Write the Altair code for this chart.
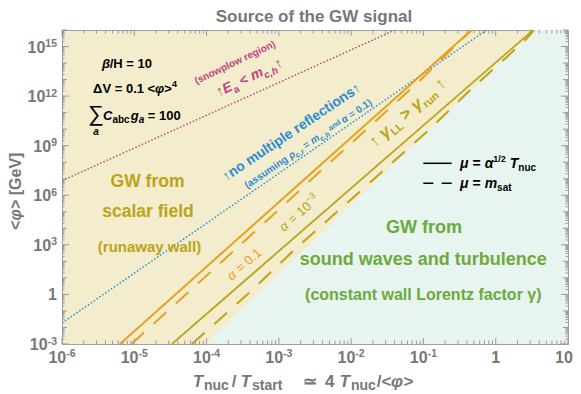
import altair as alt
import pandas as pd

# ---------------- data ----------------
x_major = [1e-6, 1e-5, 1e-4, 1e-3, 1e-2, 1e-1, 1, 10]
x_label_base = ["10", "10", "10", "10", "10", "10", "1", "10"]
x_label_exp = ["-6", "-5", "-4", "-3", "-2", "-1", "", ""]
y_major = [1e-3, 1, 1e3, 1e6, 1e9, 1e12, 1e15]
y_label_base = ["10", "1", "10", "10", "10", "10", "10"]
y_label_exp = ["-3", "", "3", "6", "9", "12", "15"]

orange_solid_x = [6.34e-6, 0.464]
orange_solid_y = [1e-3, 1e16]
orange_dashed_x = [9.14e-6, 5.19e-4, 4.35e-3, 0.0805, 0.172, 0.464]
orange_dashed_y = [1e-3, 9.8e3, 5.1e7, 5.6e12, 1.45e14, 1e16]
olive_solid_x = [3.32e-5, 3.30]
olive_solid_y = [1e-3, 1e16]
olive_dashed_x = [6.28e-5, 3.59e-4, 1.62e-3, 0.0382, 0.111, 0.44, 1.34, 2.67, 3.37]
olive_dashed_y = [1e-3, 0.912, 479, 1.05e8, 6.8e9, 2.24e12, 1.82e14, 2.95e15, 1e16]
boundary_x = [9.5e-5, 3.48]
boundary_y = [1e-3, 1e16]
snowplow_x = [1e-6, 0.0404]
snowplow_y = [7.6e6, 1e16]
reflect_x = [1e-6, 0.748]
reflect_y = [0.0186, 1e16]

# ---------------- style ----------------
FONT = "Liberation Sans"
W, H = 506, 314
OX, OY = 62, 30
YELLOW = "#F3EDCD"
CYAN = "#E8F4F0"
ORANGE = "#E7A21C"
OLIVE = "#BBA419"
GREEN = "#6BAA3C"
BLUE = "#2D8BD3"
MAGENTA = "#C0447F"
GRAY = "#777777"
TICK = "#9A9A9A"

xs = alt.Scale(type="log", domain=[1e-6, 10], nice=False)
ys = alt.Scale(type="log", domain=[1e-3, 1e16], nice=False)

CW = {' ': .278, 'a': .556, 'b': .611, 'c': .556, 'd': .611, 'e': .556, 'f': .333, 'g': .611,
      'h': .611, 'i': .278, 'j': .278, 'k': .556, 'l': .278, 'm': .889, 'n': .611, 'o': .611,
      'p': .611, 'q': .611, 'r': .389, 's': .556, 't': .333, 'u': .611, 'v': .556, 'w': .778,
      'x': .556, 'y': .556, 'z': .5, 'A': .722, 'B': .722, 'C': .722, 'D': .722, 'E': .667,
      'F': .611, 'G': .778, 'H': .722, 'I': .278, 'L': .611, 'M': .833, 'N': .722, 'O': .778,
      'P': .667, 'R': .722, 'S': .667, 'T': .611, 'V': .667, 'W': .944, '(': .333, ')': .333,
      '<': .584, '>': .584, '=': .584, ',': .278, '.': .278, '/': .278, '↑': .5, 'γ': .56,
      'α': .62, 'μ': .62, 'φ': .72, 'ρ': .6, 'β': .6, 'Δ': .7, '−': .584, '-': .333}
for d in "0123456789":
    CW[d] = .556


def tw(s, size):
    return sum(CW.get(c, 0.6) for c in s) * size


ONE = pd.DataFrame({"k": [0]})


def text_mark(t, x, y, size, color, angle=0, italic=False, bold=True, align="center",
              baseline="middle", dx=0, dy=0):
    kw = dict(text=t, font=FONT, fontSize=size, color=color, align=align,
              baseline=baseline, fontWeight="bold" if bold else "normal",
              fontStyle="italic" if italic else "normal")
    if angle:
        kw["angle"] = angle
    if dx:
        kw["dx"] = dx
    if dy:
        kw["dy"] = dy
    return alt.Chart(ONE).mark_text(**kw).encode(x=alt.value(x - OX), y=alt.value(y - OY))


def run(pieces, x, y, color, angle=0, anchor="center", bold=True):
    main = max(p[1] for p in pieces)
    widths = [tw(p[0], p[1]) for p in pieces]
    total = sum(widths)
    cur = -total / 2 if anchor == "center" else 0
    base = 0.35 * main
    out = []
    for (t, s, d, it), w in zip(pieces, widths):
        lead = len(t) - len(t.lstrip(" "))
        core = t.strip(" ")
        if core:
            out.append(text_mark(core, x, y, s, color, angle, it, bold, "left", "alphabetic",
                                 dx=cur + lead * CW[" "] * s, dy=base + d))
        cur += w
    return out


def line(xv, yv, color, width, dash=None):
    df = pd.DataFrame({"x": xv, "y": yv, "o": list(range(len(xv)))})
    kw = dict(color=color, strokeWidth=width, clip=True)
    if dash:
        kw["strokeDash"] = dash
    return alt.Chart(df).mark_line(**kw).encode(
        x=alt.X("x:Q", scale=xs, axis=None), y=alt.Y("y:Q", scale=ys, axis=None), order="o:Q")


def ticks(vals, side, length):
    df = pd.DataFrame({"v": vals})
    if side in ("bottom", "top"):
        enc = dict(x=alt.X("v:Q", scale=xs, axis=None))
        if side == "bottom":
            enc.update(y=alt.value(H), y2=alt.value(H - length))
        else:
            enc.update(y=alt.value(0), y2=alt.value(length))
    else:
        enc = dict(y=alt.Y("v:Q", scale=ys, axis=None))
        if side == "left":
            enc.update(x=alt.value(0), x2=alt.value(length))
        else:
            enc.update(x=alt.value(W), x2=alt.value(W - length))
    return alt.Chart(df).mark_rule(color=TICK, strokeWidth=1).encode(**enc)


layers = []

# background region (sound waves)
cyan_df = pd.DataFrame({"x": boundary_x, "x2": [10, 10], "y": boundary_y})
layers.append(alt.Chart(cyan_df).mark_area(orient="horizontal", color=CYAN, clip=True).encode(
    y=alt.Y("y:Q", scale=ys, axis=None), x=alt.X("x:Q", scale=xs, axis=None), x2="x2:Q"))

# lines
layers.append(line(snowplow_x, snowplow_y, MAGENTA, 1.5, [1.5, 2]))
layers.append(line(reflect_x, reflect_y, BLUE, 1.5, [1.5, 2]))
layers.append(line(olive_dashed_x, olive_dashed_y, OLIVE, 2, [17, 13]))
layers.append(line(olive_solid_x, olive_solid_y, OLIVE, 1.8))
layers.append(line(orange_dashed_x, orange_dashed_y, ORANGE, 2, [17, 13]))
layers.append(line(orange_solid_x, orange_solid_y, ORANGE, 2))

# frame ticks
x_minor = [m * 10.0 ** k for k in range(-6, 1) for m in range(2, 10)]
y_dec = [10.0 ** k for k in range(-3, 17) if k % 3 != 0]
y_minor = [m * 10.0 ** k for k in range(-3, 16) for m in range(2, 10)]
for side in ("bottom", "top"):
    layers.append(ticks(x_major, side, 6))
    layers.append(ticks(x_minor, side, 3.5))
for side in ("left", "right"):
    layers.append(ticks(y_major, side, 7))
    layers.append(ticks(y_dec, side, 5))
    layers.append(ticks(y_minor, side, 2.5))

# tick labels (base + superscript exponent)
BS, ES = 16, 10.5
LBL = dict(font=FONT, fontWeight="bold", color=GRAY, baseline="alphabetic")
for v, b, e in zip(x_major, x_label_base, x_label_exp):
    wb, we = tw(b, BS), tw(e, ES)
    start = -(wb + we) / 2 + (-4 if v == x_major[-1] else 0)
    df = pd.DataFrame({"v": [v]})
    layers.append(alt.Chart(df).mark_text(text=b, fontSize=BS, align="left", dx=start, **LBL).encode(
        x=alt.X("v:Q", scale=xs, axis=None), y=alt.value(H + 19)))
    if e:
        layers.append(alt.Chart(df).mark_text(text=e, fontSize=ES, align="left", dx=start + wb,
                                              **LBL).encode(
            x=alt.X("v:Q", scale=xs, axis=None), y=alt.value(H + 13)))
for v, b, e in zip(y_major, y_label_base, y_label_exp):
    we = tw(e, ES)
    df = pd.DataFrame({"v": [v]})
    layers.append(alt.Chart(df).mark_text(text=b, fontSize=BS, align="right", dy=6, **LBL).encode(
        y=alt.Y("v:Q", scale=ys, axis=None), x=alt.value(-5 - we)))
    if e:
        layers.append(alt.Chart(df).mark_text(text=e, fontSize=ES, align="right", dy=0.5,
                                              **LBL).encode(
            y=alt.Y("v:Q", scale=ys, axis=None), x=alt.value(-5)))

# title
layers.append(text_mark("Source of the GW signal", 314, 22, 17, GRAY, baseline="alphabetic"))

# parameter block
layers += run([("β", 13, 0, True), ("/H = 10", 13, 0, False)], 127, 63, "black")
layers += run([("ΔV = 0.1 <", 13, 0, False), ("φ", 13, 0, True), (">", 13, 0, False),
               ("4", 9, -6, False)], 135, 88, "black")
layers.append(text_mark("∑", 96, 114, 22, "black", bold=False))
layers.append(text_mark("a", 96, 132, 10, "black", italic=True))
layers += run([("C", 13, 0, True), ("abc", 10, 3, False), (" ", 4, 0, False), ("g", 13, 0, True),
               ("a", 10, 3, True), (" = 100", 13, 0, False)], 103, 115, "black", anchor="left")

# snowplow
layers.append(text_mark("(snowplow region)", 235, 62.5, 10, MAGENTA, angle=334.5))
layers += run([("↑", 14, 0, False), ("E", 14, 0, True), ("a", 10, 4, False), (" < ", 14, 0, False),
               ("m", 14, 0, True), ("c,h", 10, 4, True), ("↑", 14, 0, False)],
              249, 77, MAGENTA, angle=334.5)

# multiple reflections
layers.append(text_mark("↑no multiple reflections↑", 291.7, 132.5, 14, BLUE, angle=326))
layers += run([("(assuming ", 10, 0, False), ("ρ", 10, 0, True), ("c,r", 7.5, 2.5, True),
               (" = ", 10, 0, False), ("m", 10, 0, True), ("c,h", 7.5, 2.5, True),
               (" and ", 7.5, -1.5, False), ("α", 10, 0, True), (" = 0.1)", 10, 0, False)],
              308, 143.5, BLUE, angle=326)

# alpha labels
layers += run([("α", 13, 0, True), (" = 0.1", 13, 0, False)], 244, 264, ORANGE, angle=318.5,
              bold=False)
layers += run([("α", 13, 0, True), (" = 10", 13, 0, False), ("−3", 9, -6, False)], 299, 213,
              OLIVE, angle=319, bold=False)

# gamma
layers += run([("↑ ", 17, 0, False), ("γ", 17, 0, True), ("LL", 11, 4, False),
               (" > ", 17, 0, False), ("γ", 17, 0, True), ("run", 11, 4, False),
               (" ↑", 17, 0, False)], 407, 112, OLIVE, angle=319)

# region labels
layers.append(text_mark("GW from", 147.5, 182, 17.5, OLIVE))
layers.append(text_mark("scalar field", 148, 212, 17.5, OLIVE))
layers.append(text_mark("(runaway wall)", 149.5, 247, 15, OLIVE))
layers.append(text_mark("GW from", 424, 228, 18, GREEN))
layers.append(text_mark("sound waves and turbulence", 423.3, 260, 18, GREEN))
layers.append(text_mark("(constant wall Lorentz factor γ)", 423.3, 295, 16, GREEN))

# legend
layers.append(alt.Chart(ONE).mark_rule(color="black", strokeWidth=1.5).encode(
    x=alt.value(423.3 - OX), x2=alt.value(451.7 - OX), y=alt.value(163.3 - OY)))
layers.append(alt.Chart(ONE).mark_rule(color="black", strokeWidth=1.5, strokeDash=[10, 8.4]).encode(
    x=alt.value(423.3 - OX), x2=alt.value(451.7 - OX), y=alt.value(183.3 - OY)))
layers += run([("μ", 14, 0, True), (" = ", 14, 0, False), ("α", 14, 0, True), ("1/2", 9, -6, False),
               (" ", 14, 0, False), ("T", 14, 0, True), ("nuc", 10, 3, False)],
              460, 163, "black", anchor="left")
layers += run([("μ", 14, 0, True), (" = ", 14, 0, False), ("m", 14, 0, True), ("sat", 10, 3, False)],
              460, 183, "black", anchor="left")

# y-axis title
layers += run([("<", 16, 0, False), ("φ", 16, 0, True), ("> [GeV]", 16, 0, False)], 15, 187, GRAY,
              angle=270)

# x-axis title
XB = 387
for t, x0, s, it, sub in [("T", 192.7, 17, True, False), ("nuc", 204, 14, False, True),
                          ("/", 231.7, 17, False, False), ("T", 240.5, 17, True, False),
                          ("start", 252, 14, False, True), ("≃", 303, 17, False, False),
                          ("4", 325, 17, False, False), ("T", 339.5, 17, True, False),
                          ("nuc", 351, 14, False, True), ("/<", 376.7, 17, False, False),
                          ("φ", 391, 17, True, False), (">", 403.5, 17, False, False)]:
    layers.append(text_mark(t, x0, XB + (3 if sub else 0), s, GRAY, italic=it, align="left",
                            baseline="alphabetic"))

chart = alt.layer(*layers).properties(
    width=W, height=H,
    padding={"left": 54, "top": 22, "right": 5, "bottom": 48},
    autosize=alt.AutoSizeParams(type="none"),
).configure_view(fill=YELLOW, stroke="#A0A0A0", strokeWidth=1)

chart.save("out.html", embed_options={"renderer": "svg", "actions": False})
